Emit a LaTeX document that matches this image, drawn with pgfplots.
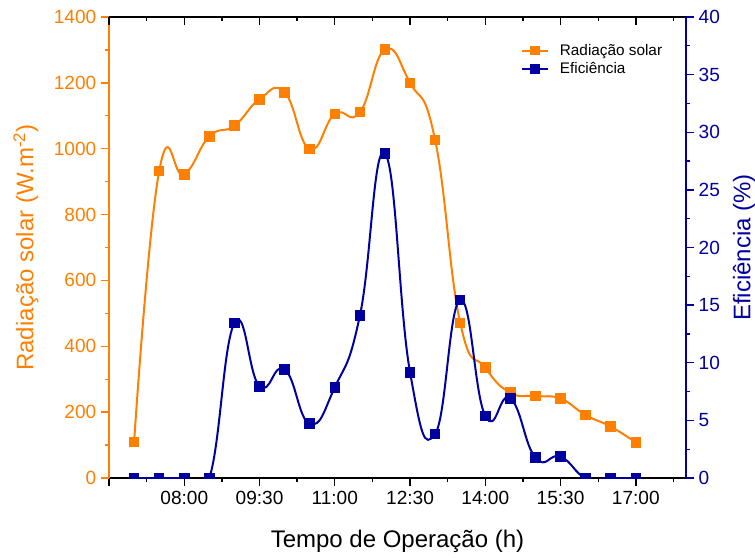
\documentclass[border=0pt]{standalone}
\usepackage{fontspec}
\setmainfont{Liberation Sans}
\usepackage{pgfplots}
\usepackage{pgfplotstable}
\pgfplotsset{compat=1.18}

\definecolor{radorange}{RGB}{255,128,0}
\definecolor{efblue}{RGB}{0,0,160}

% hour of day, solar radiation (W/m^2), efficiency (%)
\pgfplotstableread{
h    rad   ef
7.0  109   0
7.5  932   0
8.0  922   0
8.5  1037  0
9.0  1070  13.45
9.5  1150  7.96
10.0 1171  9.43
10.5 999   4.71
11.0 1105  7.87
11.5 1111  14.08
12.0 1301  28.17
12.5 1200  9.17
13.0 1026  3.82
13.5 471   15.44
14.0 335   5.38
14.5 259   6.91
15.0 249   1.76
15.5 241   1.85
16.0 191   0
16.5 156   0
17.0 108   0
}\datatable

\pgfplotsset{
  base/.style={
    scale only axis, width=432.75pt, height=345.75pt,
    xmin=6.5, xmax=18,
    xtick={6.5,8,9.5,11,12.5,14,15.5,17},
    minor xtick={7.25,8.75,10.25,11.75,13.25,14.75,16.25,17.75},
    ticklabel style={font=\fontsize{14.3}{16}\selectfont},
    /pgf/number format/assume math mode=true,
    /pgf/number format/1000 sep={},
    major tick length=6pt, minor tick length=3pt,
    every tick/.style={line width=1pt},
    axis line style={line width=1.1pt,-},
  },
  series/.style={line width=1.5pt, smooth, tension=0.8, mark=square*, mark size=3.2pt},
}

\begin{document}
\begin{tikzpicture}
% left axis: solar radiation
\begin{axis}[base,
  axis x line*=bottom, axis y line*=left, tick align=outside,
  ymin=0, ymax=1400, ytick={0,200,...,1400}, minor ytick={100,300,...,1300},
  xticklabels={,08:00,09:30,11:00,12:30,14:00,15:30,17:00},
  y axis line style={radorange}, ytick style={radorange},
  yticklabel style={text=radorange},
  xtick style={black},
  xlabel={Tempo de Operação (h)},
  xlabel style={font=\fontsize{18}{20}\selectfont, at={(axis description cs:0.5,-0.138)}, anchor=center},
  ylabel={Radiação solar (W.m\textsuperscript{-2})},
  ylabel style={font=\fontsize{18}{20}\selectfont, text=radorange, at={(axis description cs:-0.144,0.5)}, anchor=center},
]
\addplot[series, radorange] table[x=h, y=rad] {\datatable};
\end{axis}

% top border with inward ticks
\begin{axis}[base,
  axis x line*=top, axis y line=none, tick align=inside,
  xticklabels={}, ymin=0, ymax=1,
]
\end{axis}

% right axis: efficiency
\begin{axis}[base,
  axis x line=none, axis y line*=right, tick align=outside,
  ymin=0, ymax=40, ytick={0,5,...,40}, minor ytick={2.5,7.5,...,37.5},
  y axis line style={efblue}, ytick style={efblue},
  yticklabel style={text=efblue},
  ylabel={Eficiência (\%)},
  ylabel style={font=\fontsize{18}{20}\selectfont, text=efblue, at={(axis description cs:1.1005,0.5)}, anchor=center},
  clip marker paths=true,
  legend style={draw=none, fill=none, at={(axis description cs:0.707,0.9535)}, anchor=north west,
    font=\fontsize{11.5}{13}\selectfont, row sep=0pt,
    /tikz/every odd column/.append style={column sep=6pt}},
  legend cell align=left,
  legend image code/.code={\draw[mark repeat=2, mark phase=2, #1, mark size=2.8pt] plot coordinates {(0pt,0pt) (9.75pt,0pt) (19.5pt,0pt)};},
]
\addlegendimage{series, radorange}
\addlegendentry{Radiação solar}
\addplot[series, efblue] table[x=h, y=ef] {\datatable};
\addlegendentry{Eficiência}
\end{axis}

\pgfresetboundingbox
\path[use as bounding box] (-81.75pt,-59.25pt) rectangle (484.5pt,358.5pt);
\end{tikzpicture}
\end{document}
